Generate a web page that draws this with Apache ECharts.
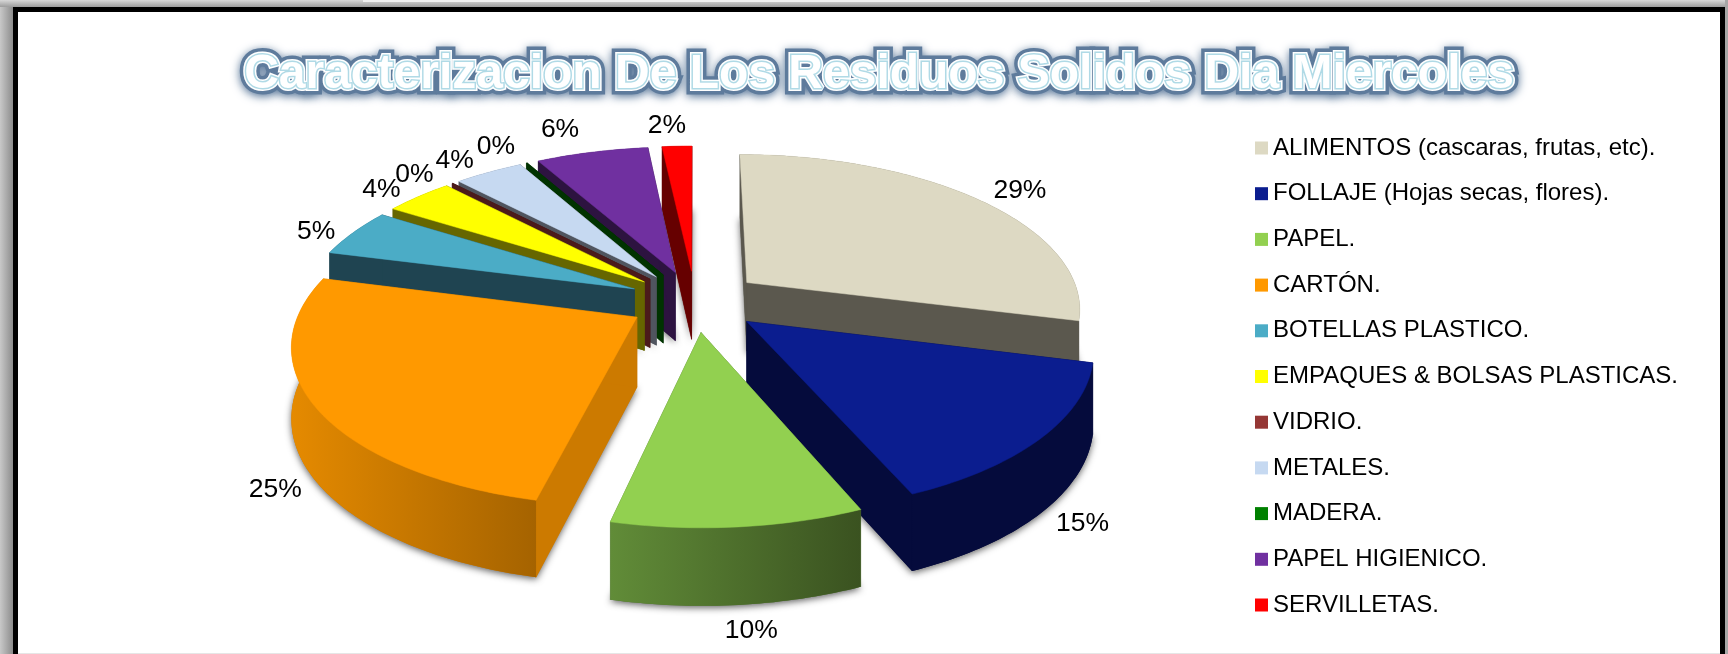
<!DOCTYPE html>
<html lang="es">
<head>
<meta charset="utf-8">
<title>Caracterizacion De Los Residuos Solidos Dia Miercoles</title>
<script src="https://cdn.jsdelivr.net/npm/echarts@6/dist/echarts.min.js"></script>
<style>
  html, body { margin: 0; padding: 0; background: #fff; }
  #chart { width: 1728px; height: 654px; }
</style>
</head>
<body>
<div id="chart"></div>
<script>
// Residue categories and their share of the day's total, in percent.
const titleText = 'Caracterizacion De Los Residuos Solidos Dia Miercoles';
const categories = [
  'ALIMENTOS (cascaras, frutas, etc).',
  'FOLLAJE (Hojas secas, flores).',
  'PAPEL.',
  'CARTÓN.',
  'BOTELLAS PLASTICO.',
  'EMPAQUES & BOLSAS PLASTICAS.',
  'VIDRIO.',
  'METALES.',
  'MADERA.',
  'PAPEL HIGIENICO.',
  'SERVILLETAS.'
];
const shares = [29.0, 14.6, 10.0, 25.45, 4.95, 3.9, 0.05, 3.9, 0.05, 6.4, 1.7];

// Face colours: top, flat wall, and left/right ends of the curved wall.
const topColors = ['#DDD9C3', '#0B1D8F', '#92D050', '#FF9900', '#4BACC6', '#FFFF00', '#953735', '#C6D9F1', '#008000', '#7030A0', '#FF0000'];
const wallColors = ['#5B584E', '#050B3C', '#4F7230', '#CC7A00', '#1F4451', '#666600', '#4B1B1B', '#50555F', '#003300', '#2D1340', '#660000'];
const rimColors = [
  ['#5B584E', '#5B584E'], ['#050B3C', '#050B3C'], ['#618C38', '#3A5220'], ['#E58A00', '#A56300'],
  ['#1F4451', '#1F4451'], ['#666600', '#666600'], ['#4B1B1B', '#4B1B1B'], ['#50555F', '#50555F'],
  ['#003300', '#003300'], ['#2D1340', '#2D1340'], ['#660000', '#660000']
];
// Back-to-front drawing rank of each slice.
const paintRank = [7, 9, 10, 8, 6, 5, 4, 3, 2, 1, 0];
// Label shift from the slice's rim midpoint, in pixels.
const labelShift = [[41, -9], [41, 86], [13, 104], [-40, 83], [-37, -1], [-37, -7], [-38, -9], [-34, -12], [-31, -16], [-32, -22], [-10, -21]];

// Perspective pie: unit disc on a plane seen from above and in front.
const view = { cx: 695, cy: 301, rx: 334, ry: 153.5, persp: 0.157, depth: 69.3, depthPersp: 0.0933, explode: 0.2 };
const total = shares.reduce((a, b) => a + b, 0);
const DEG = Math.PI / 180;

function project(u, v, lowered) {
  const w = 1 + view.persp * v;
  const x = view.cx + view.rx * u / w;
  let y = view.cy - view.ry * v / w;
  if (lowered) y += view.depth / (1 + view.depthPersp * v);
  return [x, y];
}

function sliceGeometry(index, value) {
  const before = shares.slice(0, index).reduce((a, b) => a + b, 0);
  const start = before / total * 360;
  const end = start + value / total * 360;
  const mid = (start + end) / 2;
  const ou = view.explode * Math.sin(mid * DEG);
  const ov = view.explode * Math.cos(mid * DEG);
  const rim = [];
  const steps = Math.max(2, Math.ceil(end - start));
  for (let k = 0; k <= steps; k++) {
    const a = (start + (end - start) * k / steps) * DEG;
    rim.push([ou + Math.sin(a), ov + Math.cos(a)]);
  }
  return { rim, apex: [ou, ov], midRim: [ou + Math.sin(mid * DEG), ov + Math.cos(mid * DEG)] };
}

function renderSlice(index) {
  return function (params, api) {
    const value = api.value(0);
    const g = sliceGeometry(index, value);
    const topRim = g.rim.map(p => project(p[0], p[1], false));
    const lowRim = g.rim.map(p => project(p[0], p[1], true));
    const apexTop = project(g.apex[0], g.apex[1], false);
    const apexLow = project(g.apex[0], g.apex[1], true);
    const last = g.rim.length - 1;
    const wall = wallColors[index];
    const rimStops = rimColors[index];
    const xs = topRim.map(p => p[0]);
    const flat = c => ({ fill: c, stroke: c, lineWidth: 0.5 });
    const children = [
      // Floor of the slice casts the soft shadow around the solid.
      {
        type: 'polygon',
        shape: { points: [apexLow].concat(lowRim) },
        style: { fill: wall, shadowBlur: 7, shadowColor: 'rgba(0,0,0,0.62)', shadowOffsetX: 0, shadowOffsetY: 2 }
      },
      { type: 'polygon', shape: { points: [apexTop, topRim[0], lowRim[0], apexLow] }, style: flat(wall) },
      { type: 'polygon', shape: { points: [apexTop, topRim[last], lowRim[last], apexLow] }, style: flat(wall) },
      {
        type: 'polygon',
        shape: { points: topRim.concat(lowRim.slice().reverse()) },
        style: {
          fill: {
            type: 'linear', global: true,
            x: Math.min.apply(null, xs), y: 0, x2: Math.max.apply(null, xs), y2: 0,
            colorStops: [{ offset: 0, color: rimStops[0] }, { offset: 1, color: rimStops[1] }]
          }
        }
      },
      { type: 'polygon', shape: { points: [apexTop].concat(topRim) }, style: flat(value < 0.5 ? wall : topColors[index]) }
    ];
    return { type: 'group', children };
  };
}

function renderLabel(index) {
  return function (params, api) {
    const value = api.value(0);
    const g = sliceGeometry(index, value);
    const at = project(g.midRim[0], g.midRim[1], false);
    return {
      type: 'text',
      style: {
        text: Math.round(value / total * 100) + '%',
        x: at[0] + labelShift[index][0],
        y: at[1] + labelShift[index][1],
        fill: '#000',
        font: '26.5px "Liberation Sans", Arial, sans-serif',
        align: 'center',
        verticalAlign: 'middle'
      }
    };
  };
}

const sliceSeries = categories.map((name, i) => ({
  type: 'custom',
  name,
  coordinateSystem: 'none',
  z: 10 + paintRank[i],
  itemStyle: { color: topColors[i] },
  data: [[shares[i]]],
  renderItem: renderSlice(i),
  silent: true
}));
const labelSeries = categories.map((name, i) => ({
  type: 'custom',
  name: 'etiqueta ' + i,
  coordinateSystem: 'none',
  z: 40,
  data: [[shares[i]]],
  renderItem: renderLabel(i),
  silent: true
}));

// Title: a blurred slate halo, a white outline, then a light-blue contour over white letters.
const titleFont = 'bold 48px "Liberation Sans", Arial, sans-serif';
const titleLayer = extra => Object.assign({ text: titleText, font: titleFont, align: 'center', verticalAlign: 'middle', fill: '#fff' }, extra);
const frameGrey = (x, y, x2, y2, a, b) => ({ type: 'linear', x, y, x2, y2, colorStops: [{ offset: 0, color: a }, { offset: 1, color: b }] });

const option = {
  animation: false,
  backgroundColor: '#ffffff',
  legend: {
    left: 1255,
    top: 136,
    orient: 'vertical',
    data: categories,
    icon: 'rect',
    itemWidth: 13,
    itemHeight: 13,
    itemGap: 21.7,
    selectedMode: false,
    padding: 0,
    textStyle: { fontFamily: '"Liberation Sans", Arial, sans-serif', fontSize: 24, color: '#000' }
  },
  graphic: [
    { type: 'rect', silent: true, z: 1, shape: { x: 0, y: 0, width: 13, height: 654 }, style: { fill: frameGrey(0, 0, 1, 0, '#C8C8C8', '#8C8C8C') } },
    { type: 'rect', silent: true, z: 1, shape: { x: 0, y: 0, width: 1728, height: 7 }, style: { fill: frameGrey(0, 0, 0, 1, '#D8D8D8', '#9C9C9C') } },
    { type: 'rect', silent: true, z: 1, shape: { x: 363, y: 0, width: 787, height: 2 }, style: { fill: '#F0F0F0' } },
    { type: 'rect', silent: true, z: 1, shape: { x: 1725, y: 0, width: 3, height: 654 }, style: { fill: '#A6A6A6' } },
    { type: 'rect', silent: true, z: 2, shape: { x: 13, y: 7, width: 5, height: 647 }, style: { fill: '#000' } },
    { type: 'rect', silent: true, z: 2, shape: { x: 13, y: 7, width: 1712, height: 5 }, style: { fill: '#000' } },
    { type: 'rect', silent: true, z: 2, shape: { x: 1720, y: 7, width: 5, height: 647 }, style: { fill: '#000' } },
    { type: 'rect', silent: true, z: 2, shape: { x: 18, y: 653, width: 1702, height: 1 }, style: { fill: '#E6E6E6' } },
    {
      type: 'text', silent: true, z: 50, x: 879, y: 75,
      style: titleLayer({
        stroke: '#5E7B9C', lineWidth: 13,
        textShadowBlur: 10, textShadowColor: '#5E7B9C', textShadowOffsetY: 2
      })
    },
    { type: 'text', silent: true, z: 51, x: 879, y: 75, style: titleLayer({ stroke: '#fff', lineWidth: 6 }) },
    { type: 'text', silent: true, z: 52, x: 879, y: 75, style: titleLayer({ stroke: '#B0DAE6', lineWidth: 3 }) }
  ],
  series: sliceSeries.concat(labelSeries)
};

const chart = echarts.init(document.getElementById('chart'), null, { renderer: 'canvas', width: 1728, height: 654 });
chart.setOption(option);
</script>
</body>
</html>
